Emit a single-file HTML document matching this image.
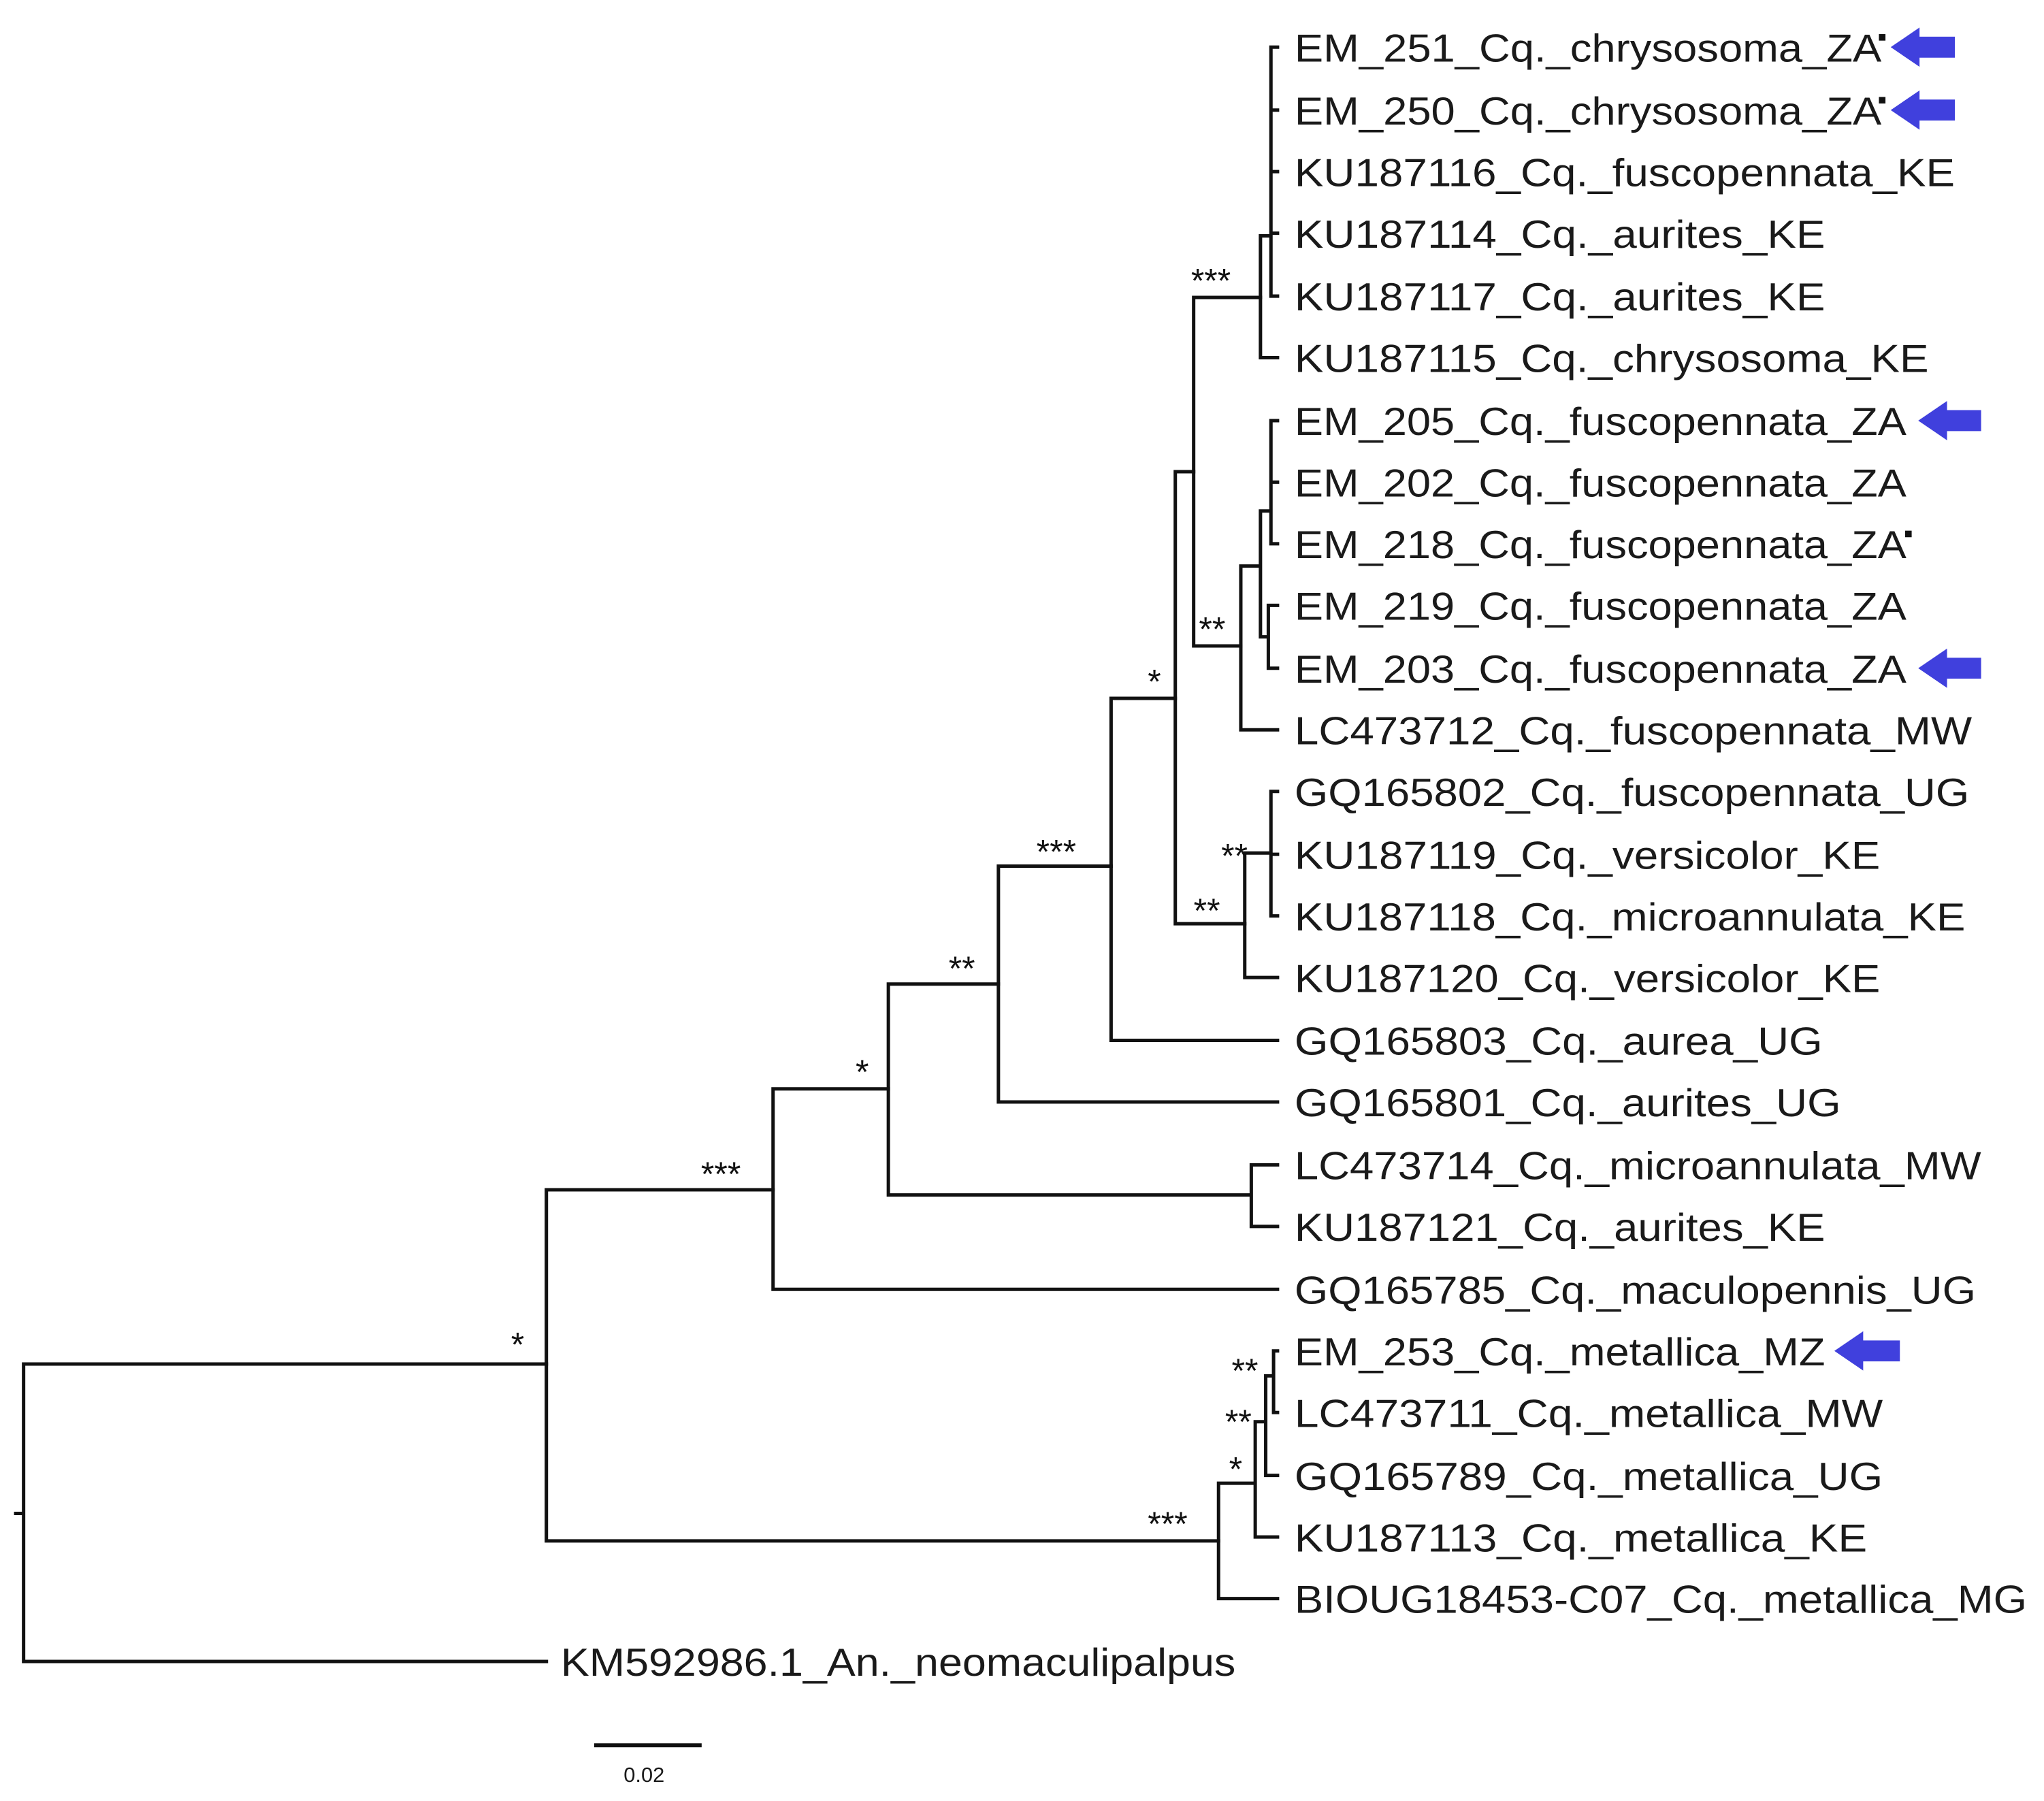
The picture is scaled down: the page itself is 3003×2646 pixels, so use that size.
<!DOCTYPE html>
<html><head><meta charset="utf-8"><style>html,body{margin:0;padding:0;background:#fff;}svg{display:block;}</style></head>
<body>
<svg width="3003" height="2646" viewBox="0 0 1560 1374.5" preserveAspectRatio="none" xmlns="http://www.w3.org/2000/svg">
<g stroke="#111" stroke-width="2.6" fill="none" stroke-linecap="square">
<!-- root -->
<path d="M18 1041V1268M12 1155H18M18 1041H417M18 1268H417"/>
<path d="M417 908V1176M417 908H590M417 1176H930"/>
<path d="M590 831V984M590 984H975M590 831H678"/>
<path d="M678 751V912M678 912H955M955 889V936M955 889H975M955 936H975M678 751H762"/>
<path d="M762 661V841M762 841H975M762 661H848"/>
<path d="M848 533V794M848 794H975M848 533H897"/>
<path d="M897 360V705M897 705H950M897 360H911"/>
<path d="M950 651V746M950 746H975M950 651H970M970 604V699M970 604H975M970 652H975M970 699H975"/>
<path d="M911 227V493M911 227H962M911 493H947"/>
<path d="M962 180V273M962 273H975M962 180H970M970 36V226M970 36H975M970 84H975M970 131H975M970 178H975M970 226H975"/>
<path d="M947 432V557M947 557H975M947 432H962M962 390V486M962 390H970M962 486H968M968 462V510M968 462H975M968 510H975M970 321V415M970 321H975M970 368H975M970 415H975"/>
<path d="M930 1132V1220M930 1220H975M930 1132H958M958 1085V1173M958 1173H975M958 1085H966M966 1050V1126M966 1126H975M966 1050H972M972 1031V1078M972 1031H975M972 1078H975"/>
<path d="M455 1332H534" stroke-width="3"/>
</g>
<g font-family="Liberation Sans, Arial, sans-serif" font-size="30" fill="#1a1a1a">
<text x="988" y="47" textLength="448" lengthAdjust="spacingAndGlyphs">EM_251_Cq._chrysosoma_ZA</text>
<text x="988" y="95" textLength="448" lengthAdjust="spacingAndGlyphs">EM_250_Cq._chrysosoma_ZA</text>
<text x="988" y="142" textLength="504" lengthAdjust="spacingAndGlyphs">KU187116_Cq._fuscopennata_KE</text>
<text x="988" y="189" textLength="405" lengthAdjust="spacingAndGlyphs">KU187114_Cq._aurites_KE</text>
<text x="988" y="237" textLength="405" lengthAdjust="spacingAndGlyphs">KU187117_Cq._aurites_KE</text>
<text x="988" y="284" textLength="484" lengthAdjust="spacingAndGlyphs">KU187115_Cq._chrysosoma_KE</text>
<text x="988" y="332" textLength="467" lengthAdjust="spacingAndGlyphs">EM_205_Cq._fuscopennata_ZA</text>
<text x="988" y="379" textLength="467" lengthAdjust="spacingAndGlyphs">EM_202_Cq._fuscopennata_ZA</text>
<text x="988" y="426" textLength="467" lengthAdjust="spacingAndGlyphs">EM_218_Cq._fuscopennata_ZA</text>
<text x="988" y="473" textLength="467" lengthAdjust="spacingAndGlyphs">EM_219_Cq._fuscopennata_ZA</text>
<text x="988" y="521" textLength="467" lengthAdjust="spacingAndGlyphs">EM_203_Cq._fuscopennata_ZA</text>
<text x="988" y="568" textLength="517" lengthAdjust="spacingAndGlyphs">LC473712_Cq._fuscopennata_MW</text>
<text x="988" y="615" textLength="515" lengthAdjust="spacingAndGlyphs">GQ165802_Cq._fuscopennata_UG</text>
<text x="988" y="663" textLength="447" lengthAdjust="spacingAndGlyphs">KU187119_Cq._versicolor_KE</text>
<text x="988" y="710" textLength="512" lengthAdjust="spacingAndGlyphs">KU187118_Cq._microannulata_KE</text>
<text x="988" y="757" textLength="447" lengthAdjust="spacingAndGlyphs">KU187120_Cq._versicolor_KE</text>
<text x="988" y="805" textLength="403" lengthAdjust="spacingAndGlyphs">GQ165803_Cq._aurea_UG</text>
<text x="988" y="852" textLength="417" lengthAdjust="spacingAndGlyphs">GQ165801_Cq._aurites_UG</text>
<text x="988" y="900" textLength="524" lengthAdjust="spacingAndGlyphs">LC473714_Cq._microannulata_MW</text>
<text x="988" y="947" textLength="405" lengthAdjust="spacingAndGlyphs">KU187121_Cq._aurites_KE</text>
<text x="988" y="995" textLength="520" lengthAdjust="spacingAndGlyphs">GQ165785_Cq._maculopennis_UG</text>
<text x="988" y="1042" textLength="405" lengthAdjust="spacingAndGlyphs">EM_253_Cq._metallica_MZ</text>
<text x="988" y="1089" textLength="449" lengthAdjust="spacingAndGlyphs">LC473711_Cq._metallica_MW</text>
<text x="988" y="1137" textLength="449" lengthAdjust="spacingAndGlyphs">GQ165789_Cq._metallica_UG</text>
<text x="988" y="1184" textLength="437" lengthAdjust="spacingAndGlyphs">KU187113_Cq._metallica_KE</text>
<text x="988" y="1231" textLength="559" lengthAdjust="spacingAndGlyphs">BIOUG18453-C07_Cq._metallica_MG</text>
<text x="428" y="1279" textLength="515" lengthAdjust="spacingAndGlyphs">KM592986.1_An._neomaculipalpus</text>
<text x="476" y="1360" font-size="16">0.02</text>
</g>
<g font-family="Liberation Sans, Arial, sans-serif" font-size="26" fill="#111">
<text x="909" y="223">***</text>
<text x="915" y="489">**</text>
<text x="876" y="529">*</text>
<text x="791" y="659">***</text>
<text x="932" y="662">**</text>
<text x="911" y="704">**</text>
<text x="724" y="748">**</text>
<text x="653" y="827">*</text>
<text x="535" y="905">***</text>
<text x="390" y="1035">*</text>
<text x="940" y="1055">**</text>
<text x="935" y="1094">**</text>
<text x="938" y="1130">*</text>
<text x="876" y="1172">***</text>
</g>
<g fill="#111">
<rect x="1434" y="26" width="5" height="5"/>
<rect x="1434" y="74" width="5" height="5"/>
<rect x="1454" y="405" width="5" height="5"/>
</g>
<g fill="#4040dd">
<path d="M1443 36 L1465 21 L1465 28 L1492 28 L1492 44 L1465 44 L1465 51 Z"/>
<path d="M1443 84 L1465 69 L1465 76 L1492 76 L1492 92 L1465 92 L1465 99 Z"/>
<path d="M1464 321 L1486 306 L1486 313 L1512 313 L1512 329 L1486 329 L1486 336 Z"/>
<path d="M1464 510 L1486 495 L1486 502 L1512 502 L1512 518 L1486 518 L1486 525 Z"/>
<path d="M1400 1031 L1422 1016 L1422 1023 L1450 1023 L1450 1039 L1422 1039 L1422 1046 Z"/>
</g>
</svg>
</body></html>
